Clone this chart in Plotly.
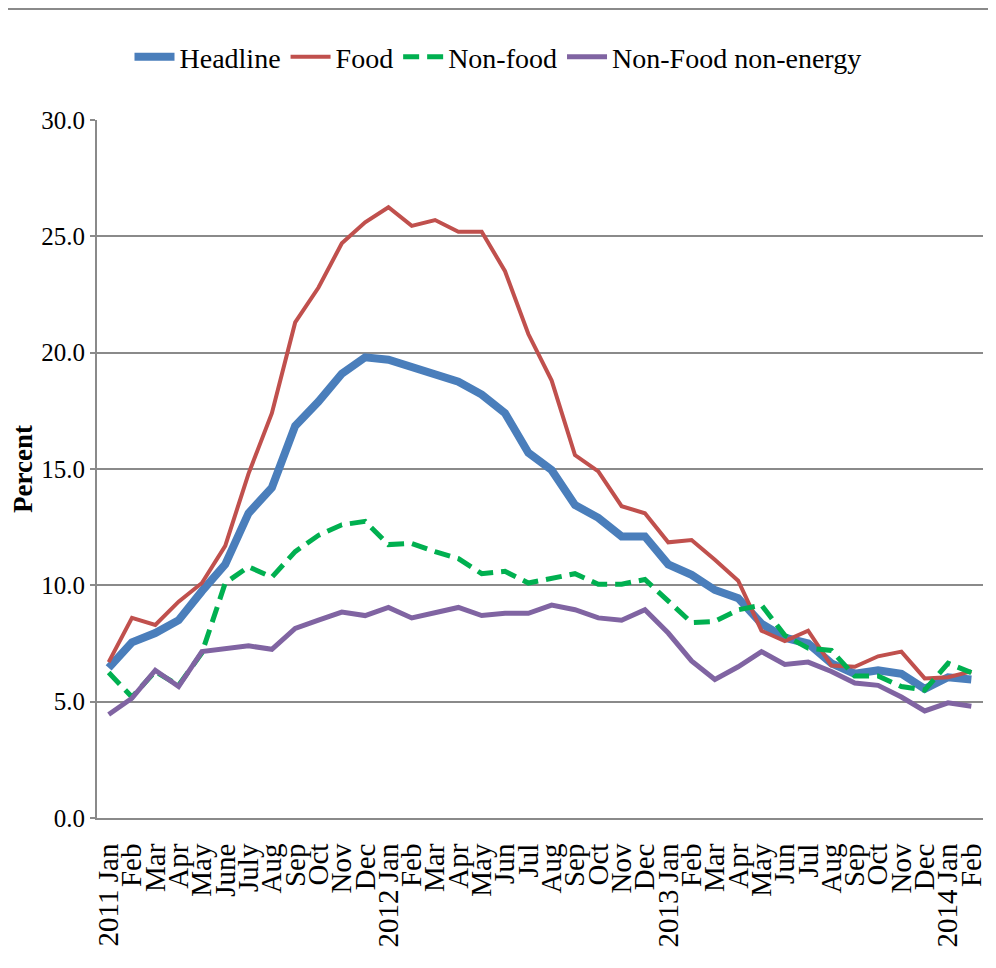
import plotly.graph_objects as go

months = ["2011 Jan", "Feb", "Mar", "Apr", "May", "June", "July", "Aug", "Sep", "Oct", "Nov", "Dec",
          "2012 Jan", "Feb", "Mar", "Apr", "May", "Jun", "Jul", "Aug", "Sep", "Oct", "Nov", "Dec",
          "2013 Jan", "Feb", "Mar", "Apr", "May", "Jun", "Jul", "Aug", "Sep", "Oct", "Nov", "Dec",
          "2014 Jan", "Feb"]

headline = [6.45, 7.55, 7.95, 8.5, 9.75, 10.9, 13.1, 14.2, 16.85, 17.9, 19.1, 19.8,
            19.7, 19.4, 19.05, 18.75, 18.2, 17.4, 15.7, 14.95, 13.45, 12.9, 12.1, 12.1,
            10.9, 10.45, 9.8, 9.45, 8.35, 7.75, 7.5, 6.65, 6.2, 6.35, 6.2, 5.55,
            6.05, 5.95]

food = [6.7, 8.6, 8.3, 9.3, 10.1, 11.7, 14.8, 17.4, 21.3, 22.8, 24.7, 25.6,
        26.25, 25.45, 25.7, 25.2, 25.2, 23.5, 20.8, 18.8, 15.6, 14.9, 13.4, 13.1,
        11.85, 11.95, 11.1, 10.2, 8.05, 7.6, 8.05, 6.55, 6.5, 6.95, 7.15, 6.0,
        6.05, 6.3]

non_food = [6.25, 5.2, 6.3, 5.7, 7.1, 10.1, 10.8, 10.35, 11.45, 12.15, 12.6, 12.75,
            11.75, 11.8, 11.45, 11.15, 10.5, 10.6, 10.1, 10.3, 10.5, 10.05, 10.05, 10.25,
            9.3, 8.4, 8.45, 8.95, 9.15, 7.85, 7.3, 7.2, 6.1, 6.1, 5.65, 5.5,
            6.65, 6.25]

non_food_non_energy = [4.45, 5.15, 6.35, 5.65, 7.15, 7.3, 7.4, 7.25, 8.15, 8.5, 8.85, 8.7,
                       9.05, 8.6, 8.85, 9.05, 8.7, 8.8, 8.8, 9.15, 8.95, 8.6, 8.5, 8.95,
                       7.95, 6.75, 5.95, 6.5, 7.15, 6.6, 6.7, 6.3, 5.8, 5.7, 5.2, 4.6,
                       4.95, 4.8]

y_ticks = [0, 5, 10, 15, 20, 25, 30]
y_tick_labels = ["0.0", "5.0", "10.0", "15.0", "20.0", "25.0", "30.0"]

x = list(range(len(months)))
serif = "Liberation Serif"
grid = "#8a8a8a"

fig = go.Figure()
fig.add_trace(go.Scatter(x=x, y=headline, name="Headline", mode="lines",
                         line=dict(color="#4A7EBB", width=8)))
fig.add_trace(go.Scatter(x=x, y=food, name="Food", mode="lines",
                         line=dict(color="#C0504D", width=4)))
fig.add_trace(go.Scatter(x=x, y=non_food, name="Non-food", mode="lines",
                         line=dict(color="#00B050", width=5, dash="16px,8px")))
fig.add_trace(go.Scatter(x=x, y=non_food_non_energy, name="Non-Food non-energy", mode="lines",
                         line=dict(color="#8064A2", width=5)))

L, R, T, B = 89, 13, 112, 150
PW, PH = 886, 698

fig.update_layout(
    width=L + PW + R, height=T + PH + B,
    margin=dict(l=L, r=R, t=T, b=B, autoexpand=False),
    paper_bgcolor="white", plot_bgcolor="white",
    font=dict(family=serif, color="black"),
    showlegend=True,
    legend=dict(orientation="h", x=(498 - 97) / PW, xanchor="center", y=1 + (120 - 57) / PH,
                yanchor="middle",
                font=dict(family=serif, size=28, color="black"),
                itemwidth=40, traceorder="normal"),
    xaxis=dict(range=[-0.5, len(months) - 0.5], tickmode="array", tickvals=x, ticktext=months,
               tickangle=-90, tickfont=dict(family=serif, size=29, color="black"),
               showgrid=False, zeroline=False, showline=True, linecolor=grid, linewidth=2,
               ticks="outside", ticklen=12, tickcolor="rgba(0,0,0,0)",
               fixedrange=True, automargin=False),
    yaxis=dict(range=[0, 30], tickmode="array", tickvals=y_ticks, ticktext=y_tick_labels,
               tickfont=dict(family=serif, size=25, color="black"),
               showgrid=True, gridcolor=grid, gridwidth=2, zeroline=False,
               showline=True, linecolor=grid, linewidth=2,
               ticks="outside", ticklen=5, tickcolor=grid, tickwidth=2, automargin=False,
               title=dict(text="<b>Percent</b>", font=dict(family=serif, size=27, color="black"),
                          standoff=12)),
    shapes=[dict(type="line", xref="paper", yref="paper",
                 x0=-L / PW, x1=(992 - 97) / PW, y0=1 + (T - 1) / PH, y1=1 + (T - 1) / PH,
                 line=dict(color=grid, width=2))],
)

fig.write_html("out.html")
